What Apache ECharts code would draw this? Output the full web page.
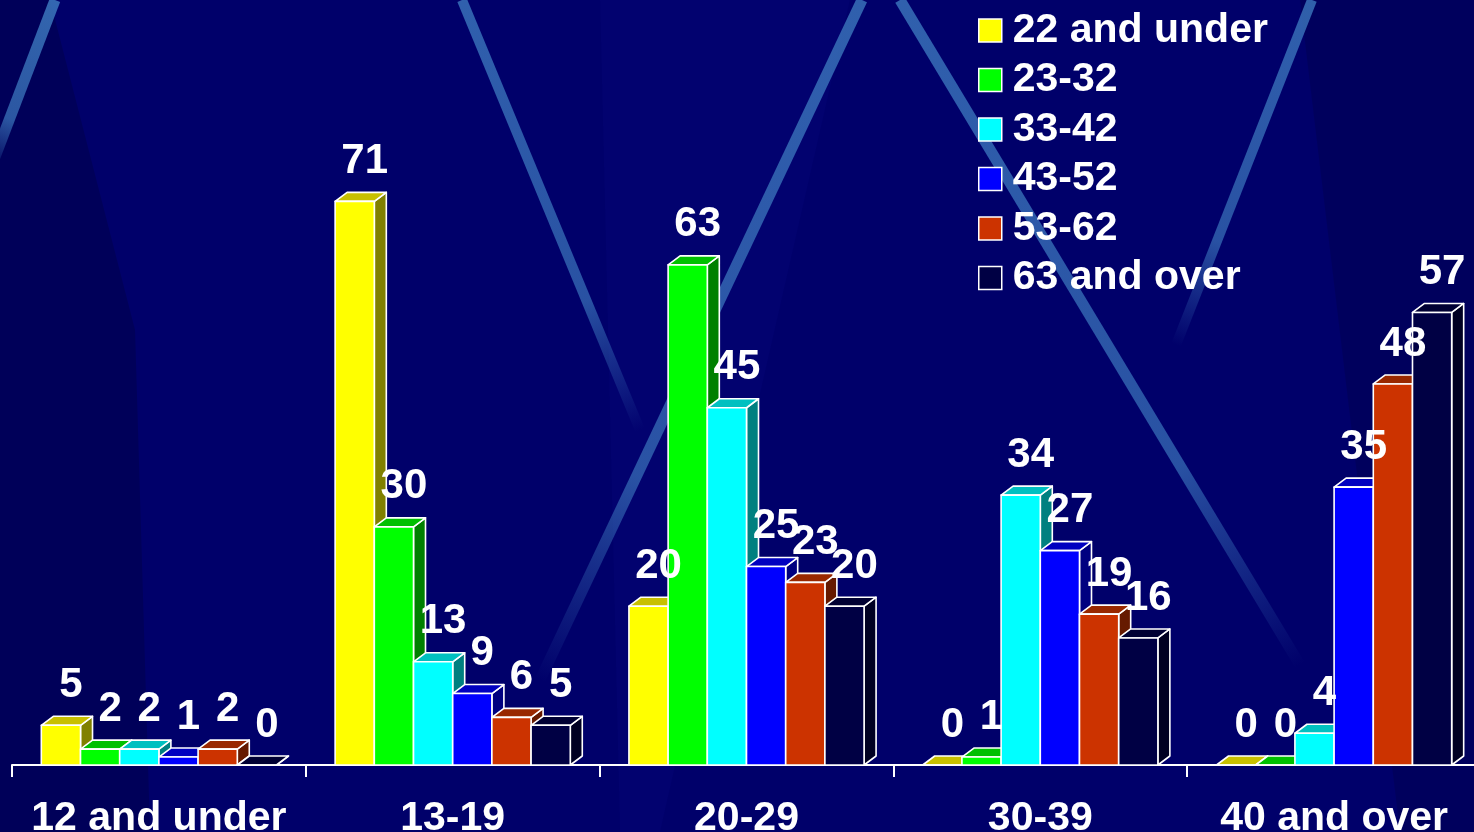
<!DOCTYPE html>
<html>
<head>
<meta charset="utf-8">
<script src="https://cdn.jsdelivr.net/npm/echarts@6/dist/echarts.min.js"></script>
<style>
html,body{margin:0;padding:0;background:#00006a;}
#chart{width:1474px;height:832px;}
</style>
</head>
<body>
<div id="chart"></div>
<script>
// ---- data ----
const categories = ['12 and under', '13-19', '20-29', '30-39', '40 and over'];
const seriesNames = ['22 and under', '23-32', '33-42', '43-52', '53-62', '63 and over'];
const s22andUnder = [5, 71, 20, 0, 0];
const s23to32 = [2, 30, 63, 1, 0];
const s33to42 = [2, 13, 45, 34, 4];
const s43to52 = [1, 9, 25, 27, 35];
const s53to62 = [2, 6, 23, 19, 48];
const s63andOver = [0, 5, 20, 16, 57];
const seriesValues = [s22andUnder, s23to32, s33to42, s43to52, s53to62, s63andOver];

// ---- styles ----
const faceColors = [
  {front:'#ffff00', top:'#c8c000', side:'#808000'},
  {front:'#00ff00', top:'#00c000', side:'#008000'},
  {front:'#00ffff', top:'#00c0c0', side:'#008080'},
  {front:'#0000ff', top:'#0000c0', side:'#000080'},
  {front:'#cc3300', top:'#992800', side:'#661a00'},
  {front:'#000044', top:'#000033', side:'#000022'}
];
const FONT = '"Liberation Sans", Arial, Helvetica, sans-serif';

const chart = echarts.init(document.getElementById('chart'), null, {renderer:'canvas'});

function makeRender(si) {
  return function (params, api) {
    const ci = api.value(0);
    const v = api.value(1);
    const topPt = api.coord([ci, v]);
    const basePt = api.coord([ci, 0]);
    const band = api.size([1, 0])[0];
    const bw = band * 0.1334;
    const dx = 12, dy = 9;
    const x0 = topPt[0] - 3 * bw + si * bw;
    const yT = topPt[1], yB = basePt[1];
    const c = faceColors[si];
    const stroke = {stroke:'#ffffff', lineWidth:1.6, lineJoin:'round'};
    return {
      type:'group',
      children:[
        {type:'polygon', shape:{points:[[x0+bw,yT],[x0+bw+dx,yT-dy],[x0+bw+dx,yB-dy],[x0+bw,yB]]},
          style:Object.assign({fill:c.side}, stroke)},
        {type:'polygon', shape:{points:[[x0,yT],[x0+dx,yT-dy],[x0+bw+dx,yT-dy],[x0+bw,yT]]},
          style:Object.assign({fill:c.top}, stroke)},
        {type:'rect', shape:{x:x0, y:yT, width:bw, height:yB-yT},
          style:Object.assign({fill:c.front}, stroke)},
        {type:'text', z2:100, style:{text:String(v), x:x0+bw/2+10, y:yT-40, align:'center', verticalAlign:'middle',
          fill:'#ffffff', font:'bold 42px ' + FONT}}
      ]
    };
  };
}

const series = seriesNames.map(function (name, si) {
  return {
    type:'custom',
    name:name,
    renderItem:makeRender(si),
    itemStyle:{color:faceColors[si].front},
    encode:{x:0, y:1},
    data:seriesValues[si].map(function (v, ci) { return [ci, v]; }),
    clip:false,
    z:2
  };
});

// decorative background streaks
function streakG(x1, y1, x2, y2, w, a) {
  return {type:'line', silent:true, z:-10,
    shape:{x1:x1, y1:y1, x2:x2, y2:y2},
    style:{stroke:{type:'linear', x:x1, y:y1, x2:x2, y2:y2, global:true, colorStops:[
      {offset:0, color:'rgba(60,120,190,' + a + ')'},
      {offset:0.7, color:'rgba(60,120,190,' + (a*0.85) + ')'},
      {offset:1, color:'rgba(60,120,190,0)'}
    ]}, lineWidth:w}};
}

const graphics = [
  {type:'polygon', silent:true, z:-20, shape:{points:[[0,0],[50,0],[135,330],[150,832],[0,832]]}, style:{fill:'rgba(0,0,40,0.25)'}},
  {type:'polygon', silent:true, z:-20, shape:{points:[[1300,0],[1474,0],[1474,832],[1400,832]]}, style:{fill:'rgba(0,0,40,0.18)'}},
  {type:'polygon', silent:true, z:-20, shape:{points:[[600,0],[850,0],[660,832],[620,832]]}, style:{fill:'rgba(20,20,150,0.12)'}},
  streakG(55, 0, -10, 170, 11, 0.85),
  streakG(462, 0, 640, 430, 10, 0.8),
  streakG(862, 0, 540, 680, 11, 0.8),
  streakG(900, 0, 1300, 665, 11, 0.8),
  streakG(1312, 0, 1176, 345, 10, 0.8)
];

const option = {
  backgroundColor:'#00006a',
  animation:false,
  graphic:graphics,
  grid:{left:12, width:1469, top:50.5, bottom:67, containLabel:false, outerBoundsMode:'none'},
  legend:{
    orient:'vertical', left:978, top:10, padding:0,
    itemWidth:23, itemHeight:23, itemGap:8.5,
    textStyle:{color:'#ffffff', fontSize:41, lineHeight:41, fontWeight:'bold', fontFamily:FONT, padding:[0,0,0,6]},
    data:seriesNames.map(function (n, i) {
      return {name:n, icon:'rect', itemStyle:{color:faceColors[i].front, borderColor:'#ffffff', borderWidth:1.5}};
    })
  },
  xAxis:{
    type:'category', data:categories,
    axisLine:{show:true, lineStyle:{color:'#ffffff', width:2}},
    axisTick:{show:true, length:12, lineStyle:{color:'#ffffff', width:2}},
    axisLabel:{color:'#ffffff', fontSize:41, fontWeight:'bold', fontFamily:FONT, margin:33, interval:0},
    splitLine:{show:false}
  },
  yAxis:{type:'value', min:0, max:90, show:false, splitLine:{show:false}},
  series:series
};
chart.setOption(option);
</script>
</body>
</html>
